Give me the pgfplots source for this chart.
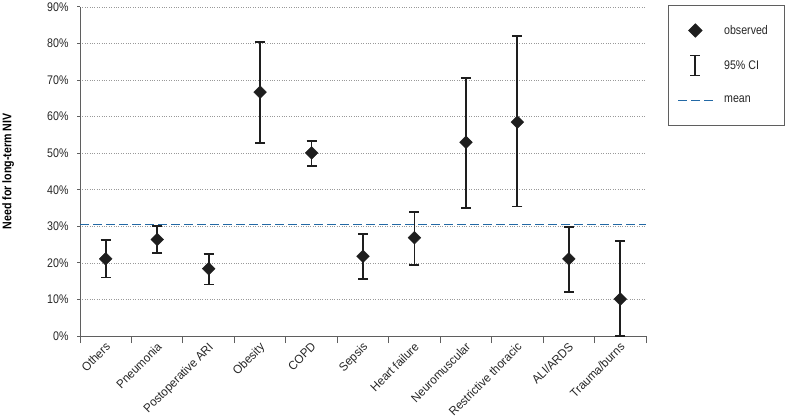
\documentclass[border=0pt]{standalone}
\usepackage{fontspec}
\setmainfont{Liberation Sans}[FakeStretch=0.85]
\newfontfamily\xlabfont{Liberation Sans}[FakeStretch=0.95]
\usepackage{pgfplots}
\usepackage{pgfplotstable}
\pgfplotsset{compat=1.18}
\definecolor{meanblue}{RGB}{35,105,165}
\definecolor{markc}{RGB}{30,30,30}
\definecolor{axisc}{RGB}{95,95,95}
\pgfplotstableread{
x y ep em
0 21.1 5.1 5.1
1 26.4 3.8 3.7
2 18.4 4.0 4.3
3 66.7 13.7 13.8
4 50.1 3.2 3.5
5 21.8 6.0 6.3
6 26.9 7.1 7.4
7 53.0 17.6 18.0
8 58.5 23.6 23.1
9 21.1 8.8 9.0
10 10.1 15.8 10.1
}\datatable
\begin{document}
\begin{tikzpicture}
\path[use as bounding box] (0,0) rectangle (787pt,418pt);
\begin{axis}[
  at={(80pt,82pt)}, anchor=south west,
  scale only axis, width=566pt, height=329pt,
  xmin=-0.5, xmax=10.5, ymin=0, ymax=90,
  axis x line*=bottom, axis y line*=left,
  axis line style={draw=axisc, line width=1pt, -},
  xtick={0,...,10},
  xticklabels={Others,Pneumonia,Postoperative ARI,Obesity,COPD,Sepsis,Heart failure,Neuromuscular,Restrictive thoracic,ALI/ARDS,Trauma/burns},
  minor xtick={-0.5,0.5,...,10.5},
  major x tick style={draw=none},
  minor x tick style={draw=axisc, line width=1pt},
  major y tick style={draw=axisc, line width=1pt},
  tick align=outside,
  major tick length=3pt, minor tick length=7pt,
  ytick={0,10,...,90},
  yticklabel={\pgfmathprintnumber{\tick}\%},
  /pgf/number format/assume math mode=true,
  ymajorgrids, major grid style={dotted, gray!80, line width=0.6pt},
  tick label style={font=\fontsize{12.5}{14}\selectfont, text=black!85},
  xticklabel style={xshift=-1pt, yshift=-1pt, rotate=45, anchor=north east, inner sep=1pt, font=\xlabfont\fontsize{12.1}{14}\selectfont},
  yticklabel style={xshift=-5pt},
  ylabel={\bfseries Need for long-term NIV},
  ylabel style={at={(axis description cs:-0.127,0.5)}, anchor=center, font=\fontsize{12.5}{14}\selectfont},
  clip=false,
  legend style={at={(1.039,1.006)}, anchor=north west, draw=axisc, line width=1pt,
    inner xsep=9pt, inner ysep=17pt, row sep=16pt, column sep=10pt,
    font=\fontsize{12.5}{14}\selectfont, text=black!85, nodes={inner sep=0pt}},
  legend cell align=left,
]
\addplot[forget plot, draw=none, mark=none, color=markc,
  error bars/.cd, y dir=both, y explicit,
  error mark=|, error mark options={line width=1.8pt, mark size=5pt, color=markc},
  error bar style={line width=1.8pt, color=markc}]
  table[x=x, y=y, y error plus=ep, y error minus=em]{\datatable};
\addplot[forget plot, only marks, mark=square*, mark size=4.5pt, color=markc,
  mark options={rotate=45, fill=markc, draw=markc}]
  table[x=x, y=y]{\datatable};
\addplot[forget plot, meanblue, line width=1.6pt, dash pattern=on 9pt off 4pt]
  coordinates {(-0.5,30.45) (10.5,30.45)};
\addlegendimage{legend image code/.code={
  \path[draw=none, fill=none] (0pt,-8pt) rectangle (35pt,8pt);
  \fill[markc] (17pt,6.5pt)--(23.5pt,0pt)--(17pt,-6.5pt)--(10.5pt,0pt)--cycle;}}
\addlegendentry{\makebox[51pt][l]{observed}}
\addlegendimage{legend image code/.code={
  \path[draw=none, fill=none] (0pt,-8pt) rectangle (35pt,8pt);
  \draw[markc, line width=1.8pt] (17pt,-10pt)--(17pt,10pt) (12pt,-10pt)--(22pt,-10pt) (12pt,10pt)--(22pt,10pt);}}
\addlegendentry{95\% CI}
\addlegendimage{legend image code/.code={
  \path[draw=none, fill=none] (0pt,-8pt) rectangle (35pt,8pt);
  \draw[meanblue, line width=1.6pt, dash pattern=on 9pt off 4pt] (0pt,0pt)--(35pt,0pt);}}
\addlegendentry{mean}
\end{axis}
\end{tikzpicture}
\end{document}
